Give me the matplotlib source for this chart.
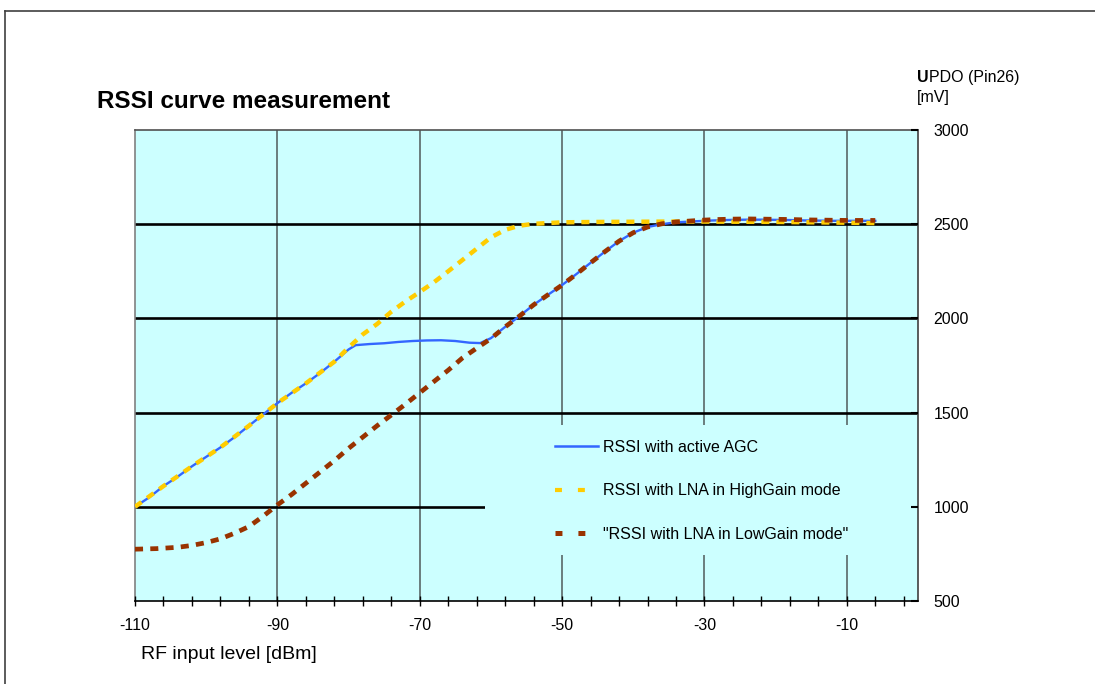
import matplotlib
matplotlib.use('Agg')
import matplotlib.pyplot as plt
from matplotlib.lines import Line2D
from matplotlib.patches import Rectangle
from matplotlib.ticker import FixedLocator
import numpy as np

plt.rcParams['font.family'] = ['Liberation Sans', 'DejaVu Sans']
plt.rcParams['lines.scale_dashes'] = False

# ---------------- data ----------------
agc_x = [-110, -108, -106, -104, -102, -100, -98, -96, -94, -92, -90, -88, -86, -84, -82,
         -80, -79, -77, -75, -73, -71, -69, -67, -65, -63, -61.5, -60, -58, -56, -54, -52,
         -50, -48, -46, -44, -42, -40, -38, -36, -34, -32, -30, -28, -26, -24, -22, -20,
         -18, -16, -14, -12, -10, -8, -6]
agc_y = [1000, 1050, 1110, 1160, 1215, 1265, 1315, 1370, 1430, 1490, 1550, 1605, 1655, 1710, 1770,
         1835, 1858, 1864, 1868, 1875, 1880, 1883, 1884, 1880, 1871, 1869, 1895, 1955, 2012, 2072, 2125,
         2177, 2235, 2295, 2354, 2410, 2455, 2485, 2500, 2510, 2514, 2518, 2521, 2523, 2524, 2524, 2523,
         2522, 2520, 2519, 2518, 2518, 2518, 2518]

hg_x = [-110, -106, -102, -98, -94, -90, -86, -82, -80, -78, -76, -74, -72, -70, -68, -66, -64,
        -62, -60, -58, -56, -54, -52, -50, -45, -40, -35, -30, -25, -20, -15, -10, -6]
hg_y = [1000, 1110, 1215, 1315, 1430, 1550, 1655, 1770, 1845, 1915, 1970, 2035, 2090, 2140, 2192,
        2250, 2310, 2370, 2430, 2470, 2492, 2502, 2506, 2510, 2512, 2513, 2514, 2514, 2513, 2512,
        2510, 2508, 2506]

lg_x = [-110, -107, -104, -102, -100, -98, -96, -94, -92, -90, -88, -86, -84, -82, -80, -78, -76,
        -74, -72, -70, -68, -66, -64, -62, -60, -58, -56, -54, -52, -50, -48, -46, -44, -42, -40,
        -38, -36, -34, -32, -30, -28, -26, -24, -22, -20, -18, -16, -14, -12, -10, -8, -6]
lg_y = [775, 778, 785, 795, 810, 830, 860, 895, 950, 1010, 1065, 1125, 1185, 1245, 1310, 1370, 1430,
        1487, 1545, 1605, 1665, 1725, 1790, 1842, 1893, 1955, 2012, 2072, 2125, 2177, 2235, 2295,
        2354, 2410, 2455, 2485, 2502, 2512, 2517, 2522, 2525, 2527, 2528, 2527, 2526, 2525, 2523,
        2522, 2521, 2520, 2520, 2520]

labels = ['RSSI with active AGC', 'RSSI with LNA in HighGain mode',
          '"RSSI with LNA in LowGain mode"']
x_ticks = [-110, -90, -70, -50, -30, -10]
y_ticks = [500, 1000, 1500, 2000, 2500, 3000]

C_BLUE = '#3366FF'
C_YEL = '#FFCC00'
C_BRN = '#993300'
C_BG = '#CCFFFF'

W, H = 1095, 684
fig = plt.figure(figsize=(W / 100, H / 100), dpi=100)

# outer frame (left and top edges visible)
fig.add_artist(Line2D([5 / W, 5 / W], [0, 1 - 11 / H], transform=fig.transFigure,
                      color='#404040', lw=1.2))
fig.add_artist(Line2D([5 / W, 1], [1 - 11 / H, 1 - 11 / H], transform=fig.transFigure,
                      color='#404040', lw=1.2))

ax = fig.add_axes([135 / W, 1 - 601 / H, (918 - 135) / W, (601 - 130) / H])
ax.set_facecolor(C_BG)
ax.set_xlim(-110, 0)
ax.set_ylim(500, 3000)
ax.set_axisbelow(False)

for v in x_ticks[1:]:
    ax.axvline(v, color='#505a5a', lw=1.1, zorder=1)
for v in y_ticks[1:-1]:
    ax.axhline(v, color='black', lw=1.9, zorder=1)

# legend background (covers the grid)
ax.add_patch(Rectangle((-60.8, 744), 60.8, 1434 - 744, facecolor=C_BG, edgecolor='none', zorder=1.5))

ax.plot(agc_x, agc_y, color=C_BLUE, lw=1.7, zorder=3)
ax.plot(hg_x, hg_y, color=C_YEL, lw=3.2, dashes=(5.8, 5.0), zorder=3.1)
ax.plot(lg_x, lg_y, color=C_BRN, lw=3.4, dashes=(5.8, 5.2), zorder=3.2)

# spines
ax.spines['left'].set_color('#808080')
ax.spines['left'].set_linewidth(1.2)
ax.spines['top'].set_color('#505050')
ax.spines['top'].set_linewidth(1.2)
ax.spines['right'].set_color('#404040')
ax.spines['right'].set_linewidth(1.2)
ax.spines['bottom'].set_color('black')
ax.spines['bottom'].set_linewidth(1.2)

ax.xaxis.set_major_locator(FixedLocator(x_ticks))
ax.xaxis.set_minor_locator(FixedLocator(np.arange(-110, 0, 4)))
ax.set_xticklabels([str(v) for v in x_ticks])
ax.tick_params(axis='x', which='both', direction='inout', length=7, width=1, color='black',
               labelsize=11.5, pad=8.5)

ax.yaxis.tick_right()
ax.yaxis.set_major_locator(FixedLocator(y_ticks))
ax.set_yticklabels([str(v) for v in y_ticks])
ax.tick_params(axis='y', which='both', direction='in', length=5, width=1.5, color='black',
               labelsize=11.5, pad=11)

# texts
fig.text(97 / W, 1 - 108 / H, 'RSSI curve measurement', fontsize=17.5, fontweight='bold',
         ha='left', va='baseline')
fig.text(141 / W, 1 - 659 / H, 'RF input level [dBm]', fontsize=14, ha='left', va='baseline')
tU = fig.text(917 / W, 1 - 85 / H, 'U', fontsize=11.5, fontweight='bold', ha='left', va='bottom')
ax.annotate('PDO (Pin26)', xy=(1, 0), xycoords=tU, fontsize=11.5, ha='left', va='bottom',
            annotation_clip=False)
fig.text(917 / W, 1 - 102 / H, '[mV]', fontsize=11.5, ha='left', va='baseline')

handles = [Line2D([], [], color=C_BLUE, lw=1.8),
           Line2D([], [], color=C_YEL, lw=3.0, dashes=(5.0, 11.5)),
           Line2D([], [], color=C_BRN, lw=3.6, dashes=(5.0, 11.5))]
fig.legend(handles, labels, loc='upper left', bbox_to_anchor=(555 / W, 1 - 440 / H),
           bbox_transform=fig.transFigure, frameon=False, borderpad=0, borderaxespad=0,
           handlelength=2.7, handletextpad=0.3, labelspacing=1.78, fontsize=11.5)

fig.savefig('out.png', dpi=100)
